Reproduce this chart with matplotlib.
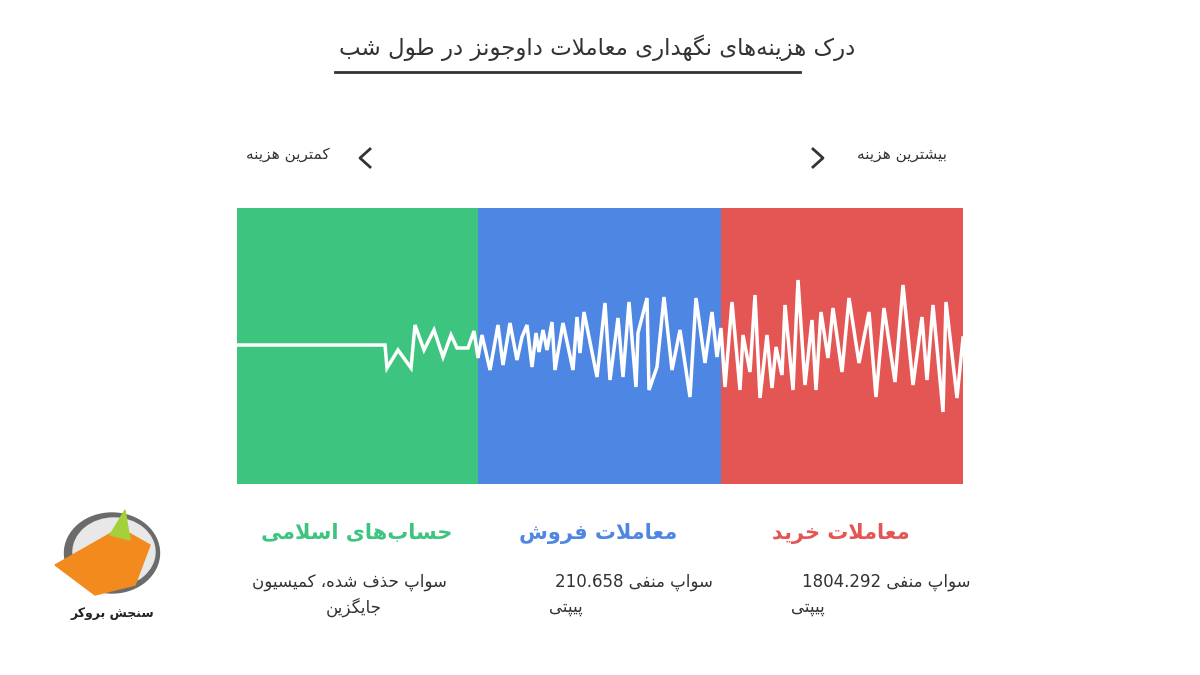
import re
import matplotlib.pyplot as plt
from matplotlib.patches import Rectangle, Polygon, Ellipse

plt.rcParams['font.family'] = ['DejaVu Sans']

# --- data ---
title = "درک هزینه‌های نگهداری معاملات داوجونز در طول شب"
cost_low = "کمترین هزینه"
cost_high = "بیشترین هزینه"
categories = ["حساب‌های اسلامی", "معاملات فروش", "معاملات خرید"]
cat_colors = ["#3dc47e", "#4e86e3", "#e45653"]
cat_text = [["سواپ حذف شده، کمیسیون", "جایگزین"],
            ["سواپ منفی 210.658", "پیپتی"],
            ["سواپ منفی 1804.292", "پیپتی"]]
panel_edges = [237, 478, 721, 963]
logo_text = "سنجش بروکر"

# waveform (pixel coordinates)
wave_x = [237, 385, 387, 398, 411, 415, 424, 434, 443, 451, 457, 468, 474, 478, 482,
          490, 498, 503, 510, 517, 522, 527, 532, 536, 539, 543, 547, 552, 555, 563,
          573, 577, 580, 584, 597, 605, 610, 618, 623, 629, 636, 638, 647, 649, 657,
          664, 672, 680, 690, 696, 705, 712, 717, 721, 725, 732, 740, 743, 750, 755,
          760, 767, 772, 776, 782, 785, 793, 798, 805, 812, 816, 821, 828, 833, 842,
          849, 859, 869, 876, 884, 895, 903, 913, 922, 927, 933, 943, 946, 957, 963]
wave_y = [345, 345, 368, 350, 368, 325, 350, 330, 357, 335, 348, 348, 331, 358, 335,
          370, 325, 365, 323, 360, 337, 325, 367, 333, 352, 330, 350, 322, 370, 323,
          370, 317, 353, 312, 377, 303, 380, 318, 377, 302, 387, 333, 298, 390, 367,
          297, 370, 330, 397, 298, 363, 312, 357, 328, 387, 302, 390, 335, 372, 295,
          398, 335, 388, 347, 375, 305, 390, 280, 385, 320, 390, 312, 358, 308, 372,
          298, 363, 312, 397, 308, 382, 285, 385, 317, 380, 305, 412, 302, 398, 338]

# --- minimal Persian shaping (matplotlib has no bidi/shaping) ---
FORMS = {
    'ا': (0xFE8D, 0xFE8E, None, None), 'د': (0xFEA9, 0xFEAA, None, None),
    'ذ': (0xFEAB, 0xFEAC, None, None), 'ر': (0xFEAD, 0xFEAE, None, None),
    'ز': (0xFEAF, 0xFEB0, None, None), 'و': (0xFEED, 0xFEEE, None, None),
    'ب': (0xFE8F, 0xFE90, 0xFE91, 0xFE92), 'پ': (0xFB56, 0xFB57, 0xFB58, 0xFB59),
    'ت': (0xFE95, 0xFE96, 0xFE97, 0xFE98), 'ج': (0xFE9D, 0xFE9E, 0xFE9F, 0xFEA0),
    'ح': (0xFEA1, 0xFEA2, 0xFEA3, 0xFEA4), 'خ': (0xFEA5, 0xFEA6, 0xFEA7, 0xFEA8),
    'س': (0xFEB1, 0xFEB2, 0xFEB3, 0xFEB4), 'ش': (0xFEB5, 0xFEB6, 0xFEB7, 0xFEB8),
    'ض': (0xFEBD, 0xFEBE, 0xFEBF, 0xFEC0), 'ط': (0xFEC1, 0xFEC2, 0xFEC3, 0xFEC4),
    'ع': (0xFEC9, 0xFECA, 0xFECB, 0xFECC), 'ف': (0xFED1, 0xFED2, 0xFED3, 0xFED4),
    'ک': (0xFB8E, 0xFB8F, 0xFB90, 0xFB91), 'گ': (0xFB92, 0xFB93, 0xFB94, 0xFB95),
    'ل': (0xFEDD, 0xFEDE, 0xFEDF, 0xFEE0), 'م': (0xFEE1, 0xFEE2, 0xFEE3, 0xFEE4),
    'ن': (0xFEE5, 0xFEE6, 0xFEE7, 0xFEE8), 'ه': (0xFEE9, 0xFEEA, 0xFEEB, 0xFEEC),
    'ی': (0xFBFC, 0xFBFD, 0xFBFE, 0xFBFF),
}


def shape(word):
    out = []
    chars = list(word)
    i = 0
    while i < len(chars):
        c = chars[i]
        if c not in FORMS:
            if c != '\u200c':
                out.append(c)
            i += 1
            continue
        prev = chars[i - 1] if i > 0 else ''
        joins_prev = prev in FORMS and FORMS[prev][2] is not None
        if c == 'ل' and i + 1 < len(chars) and chars[i + 1] == 'ا':
            out.append(chr(0xFEFC if joins_prev else 0xFEFB))
            i += 2
            continue
        nxt = chars[i + 1] if i + 1 < len(chars) else ''
        joins_next = FORMS[c][2] is not None and nxt in FORMS
        iso, fin, ini, med = FORMS[c]
        if joins_prev and joins_next:
            g = med
        elif joins_prev:
            g = fin
        elif joins_next:
            g = ini
        else:
            g = iso
        out.append(chr(g))
        i += 1
    return ''.join(out)


def fa(text):
    runs = re.findall(r'[0-9.]+|[^0-9.]+', text)
    vis = []
    for r in reversed(runs):
        vis.append(r if re.fullmatch(r'[0-9.]+', r) else shape(r)[::-1])
    return ''.join(vis)


fig = plt.figure(figsize=(12, 6.75), dpi=100)
ax = fig.add_axes([0, 0, 1, 1])
ax.set_xlim(0, 1200)
ax.set_ylim(675, 0)
ax.axis('off')

# title
ax.text(597, 48, fa(title), ha='center', va='center', fontsize=16.5, color='#333333')
ax.plot([335, 800], [72, 72], color='#333333', lw=2)

# cost direction labels
ax.text(288, 155, fa(cost_low), ha='center', va='center', fontsize=11, color='#333333')
ax.text(902, 155, fa(cost_high), ha='center', va='center', fontsize=11, color='#333333')
ax.plot([370, 360, 370], [149, 158, 167], color='#333333', lw=2)
ax.plot([813, 823, 813], [149, 158, 167], color='#333333', lw=2)

# panels
for i, c in enumerate(cat_colors):
    x0, x1 = panel_edges[i], panel_edges[i + 1]
    ax.add_patch(Rectangle((x0, 208), x1 - x0, 276, color=c, lw=0))

ax.plot(wave_x, wave_y, color='white', lw=2.5, solid_joinstyle='miter')

# captions
for i, (name, c) in enumerate(zip(categories, cat_colors)):
    cx = (panel_edges[i] + panel_edges[i + 1]) / 2 - 1
    ax.text(cx, 533, fa(name), ha='center', va='center', fontsize=15,
            fontweight='bold', color=c)
    lines = cat_text[i]
    rx = [447, 713, 970][i]
    ax.text(rx, 582, fa(lines[0]), ha='right', va='center', fontsize=12, color='#333333')
    ax.text(rx - [65, 130, 145][i], 607, fa(lines[1]), ha='right', va='center',
            fontsize=12, color='#333333')

# simple logo
ax.add_patch(Ellipse((112, 553), 95, 80, color='#6b6b6b'))
ax.add_patch(Ellipse((114, 552), 82, 68, color='#e8e8e8'))
ax.add_patch(Polygon([[55, 565], [120, 528], [150, 545], [135, 585], [95, 595]],
                     color='#f28a1e'))
ax.add_patch(Polygon([[110, 535], [125, 510], [130, 540]], color='#a4d13a'))
ax.text(112, 613, fa(logo_text), ha='center', va='center', fontsize=9,
        fontweight='bold', color='#222222')

fig.savefig('out.png', dpi=100)
